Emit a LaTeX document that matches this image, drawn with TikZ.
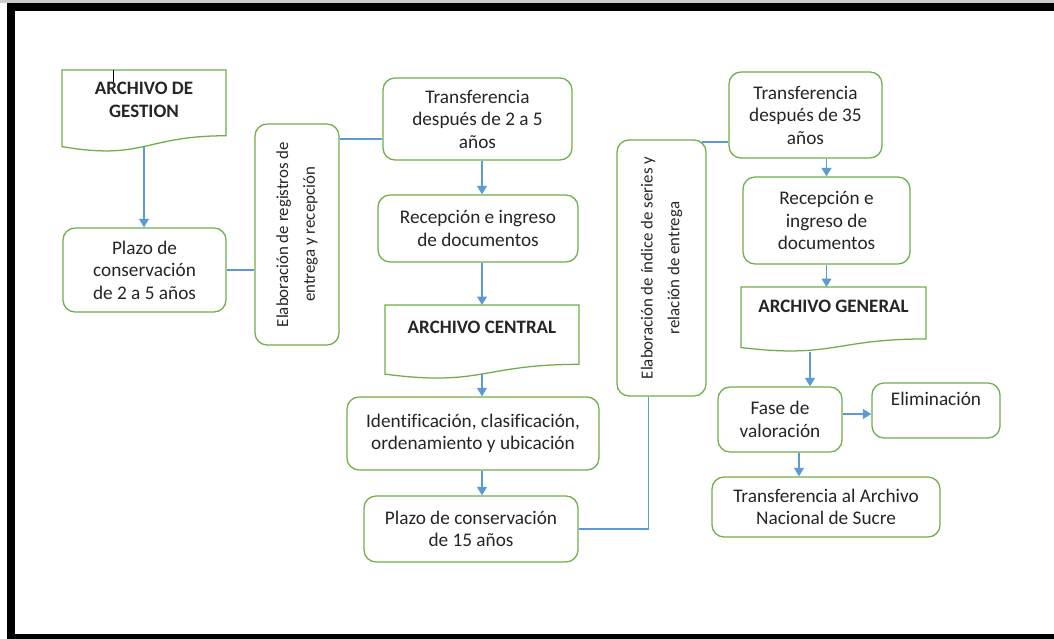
\documentclass[tikz,border=0pt]{standalone}
\usepackage{fontspec}
\setmainfont{Carlito}[Ligatures=NoCommon]
\usetikzlibrary{arrows.meta,calc,positioning}
\definecolor{ink}{HTML}{262626}
\definecolor{leaf}{HTML}{70AD47}
\definecolor{sky}{HTML}{5B9BD5}
\newcommand\docshape[1]{%
  \draw[docline] (#1.north west)--(#1.north east)
    --($(#1.north east)!0.802!(#1.south east)$)
    .. controls ($(#1.north)!0.802!(#1.south)$) and ($(#1.north)!1.107!(#1.south)$)
    .. ($(#1.north west)!0.934!(#1.south west)$)--cycle;}

\begin{document}
\begin{tikzpicture}[font=\fontsize{13.7}{16}\selectfont,>=Triangle]
\tikzset{box/.style={draw=leaf,line width=0.9pt,rounded corners=0.3cm,fill=white,align=center,text=ink},
  docbox/.style={inner sep=0,outer sep=0},
  docline/.style={draw=leaf,line width=0.9pt,fill=white},
  doctitle/.style={font=\fontsize{13.5}{16}\selectfont\bfseries,text=ink,align=center,inner sep=0},
  vtext/.style={rotate=90,align=center,text=ink,font=\fontsize{12}{19}\selectfont},
  link/.style={draw=sky,line width=0.9pt},
  arrow/.style={link,-{Triangle[width=7pt,length=6pt]}}}

\useasboundingbox (0,0) rectangle (26.35,-15.975);
\fill[black!20] (0,0) rectangle (26.35,-0.075);
\fill[black] (0.175,-0.0875) rectangle (26.35,-0.2875);
\fill[black] (0.175,-0.0875) rectangle (0.375,-15.975);
\fill[black] (0.175,-15.85) rectangle (26.35,-15.975);

\node[docbox,minimum width=4.1cm,minimum height=2.05cm] (gestion) at (3.6,-2.775) {};
\docshape{gestion}
\node[doctitle,below=0.3cm of gestion.north] (gestion-t) {ARCHIVO DE\\GESTION};
\draw[black,line width=0.6pt] (2.825,-1.75)--(2.825,-2.05);
\node[box,minimum width=4.075cm,minimum height=2.1cm] (plazoA) at (3.6125,-6.75) {Plazo de\\conservación\\de 2 a 5 años};
\node[box,minimum width=2.1cm,minimum height=5.525cm] (elabA) at (7.425,-5.8625) {};
\node[vtext] (elabA-t) at (elabA) {Elaboración de registros de\\entrega y recepción};

\node[box,minimum width=4.725cm,minimum height=2.05cm] (transfA) at (11.9375,-2.975) {Transferencia\\después de 2 a 5\\años};
\node[box,minimum width=5cm,minimum height=1.675cm] (recepA) at (11.95,-5.7125) {Recepción e ingreso\\de documentos};
\node[docbox,minimum width=4.85cm,minimum height=1.85cm] (central) at (12.05,-8.55) {};
\docshape{central}
\node[doctitle,below=0.4cm of central.north] (central-t) {ARCHIVO CENTRAL};
\node[box,minimum width=6.3cm,minimum height=1.825cm] (ident) at (11.825,-10.8375) {Identificación, clasificación,\\ordenamiento y ubicación};
\node[box,minimum width=5.35cm,minimum height=1.65cm] (plazoB) at (11.775,-13.225) {Plazo de conservación\\de 15 años};
\node[box,minimum width=2.225cm,minimum height=6.4cm] (elabB) at (16.5375,-6.7) {};
\node[vtext] (elabB-t) at (elabB) {Elaboración de índice de series y\\relación de entrega};

\node[box,minimum width=3.825cm,minimum height=2.15cm] (transfB) at (20.1375,-2.875) {Transferencia\\después de 35\\años};
\node[box,minimum width=4.175cm,minimum height=2.175cm] (recepB) at (20.6625,-5.5125) {Recepción e\\ingreso de\\documentos};
\node[docbox,minimum width=4.625cm,minimum height=1.62cm] (general) at (20.8375,-7.985) {};
\docshape{general}
\node[doctitle,below=0.32cm of general.north] (general-t) {ARCHIVO GENERAL};
\node[box,minimum width=3.1cm,minimum height=1.625cm] (fase) at (19.5,-10.4875) {Fase de\\valoración};
\node[box,minimum width=3.2cm,minimum height=1.375cm] (elim) at (23.4,-10.2625) {Eliminación\\\mbox{}};
\node[box,minimum width=5.7cm,minimum height=1.5cm] (nacional) at (20.65,-12.675) {Transferencia al Archivo\\Nacional de Sucre};

\coordinate (gestion-b) at ($(gestion.north)!0.933!(gestion.south)$);
\coordinate (central-b) at ($(central.north)!0.933!(central.south)$);
\coordinate (rowA) at (0,-3.475);
\coordinate (rowB) at (0,-3.55);
\coordinate (rowE) at (0,-10.35);
\coordinate (colB) at (16.2125,0);
\coordinate (colD) at (20.25,0);
\coordinate (colE) at (19.975,0);

\draw[arrow] (gestion-b)--(gestion-b |- plazoA.north);
\draw[link] (plazoA.east)--(plazoA.east -| elabA.west);
\draw[link] (elabA.east |- rowA)--(transfA.west |- rowA);
\draw[arrow] (transfA.south -| central)--(recepA.north -| central);
\draw[arrow] (recepA.south -| central)--(central.north);
\draw[arrow] (central-b)--(central-b |- ident.north);
\draw[arrow] (ident.south -| central)--(plazoB.north -| central);
\draw[link] (plazoB.east) -| (colB |- elabB.south);
\draw[link] ($(elabB.east |- rowB)+(-0.12,0)$)--(transfB.west |- rowB);
\draw[arrow] (transfB.south -| recepB)--(recepB.north);
\draw[arrow] (recepB.south)--(recepB.south |- general.north);
\draw[arrow] (general.south -| colD)--(fase.north -| colD);
\draw[arrow] (fase.east |- rowE)--(elim.west |- rowE);
\draw[arrow] (fase.south -| colE)--(nacional.north -| colE);
\end{tikzpicture}
\end{document}
